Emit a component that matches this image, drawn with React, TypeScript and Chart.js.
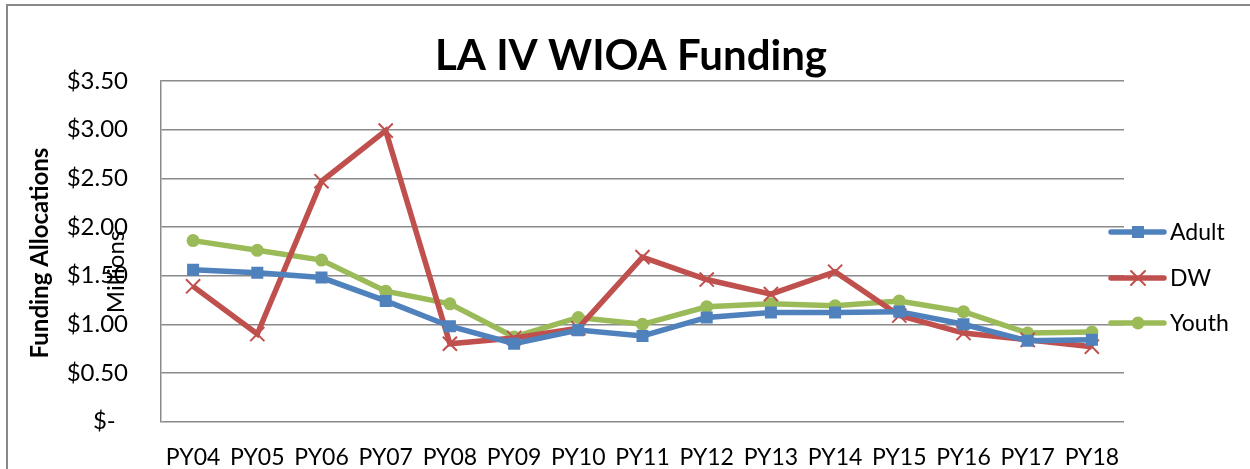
import React, { useEffect, useRef } from "react";
import { Chart, registerables } from "chart.js";

Chart.register(...registerables);

const categories = ["PY04", "PY05", "PY06", "PY07", "PY08", "PY09", "PY10", "PY11", "PY12", "PY13", "PY14", "PY15", "PY16", "PY17", "PY18"];
const adult = [1.56, 1.53, 1.48, 1.24, 0.98, 0.80, 0.94, 0.88, 1.07, 1.12, 1.12, 1.13, 1.0, 0.83, 0.84];
const dw = [1.39, 0.90, 2.47, 2.99, 0.80, 0.86, 0.96, 1.69, 1.46, 1.31, 1.54, 1.09, 0.91, 0.84, 0.77];
const youth = [1.86, 1.76, 1.66, 1.34, 1.21, 0.87, 1.07, 1.00, 1.18, 1.21, 1.19, 1.24, 1.13, 0.91, 0.92];
const yTickLabels = ["$-  ", "$0.50", "$1.00", "$1.50", "$2.00", "$2.50", "$3.00", "$3.50"];

const FONT = "Lato, 'Open Sans', sans-serif";
const BLUE = "#4F81BD";
const RED = "#C0504D";
const GREEN = "#9BBB59";
const GRID = "#8a8a8a";

function drawMarker(ctx: CanvasRenderingContext2D, style: string, x: number, y: number, color: string) {
  ctx.save();
  ctx.fillStyle = color;
  ctx.strokeStyle = color;
  if (style === "rect") {
    ctx.fillRect(x - 6, y - 6, 12, 12);
  } else if (style === "crossRot") {
    ctx.lineWidth = 2;
    ctx.beginPath();
    ctx.moveTo(x - 7, y - 7);
    ctx.lineTo(x + 7, y + 7);
    ctx.moveTo(x + 7, y - 7);
    ctx.lineTo(x - 7, y + 7);
    ctx.stroke();
  } else {
    ctx.beginPath();
    ctx.arc(x, y, 6.5, 0, Math.PI * 2);
    ctx.fill();
  }
  ctx.restore();
}

const decorPlugin = {
  id: "decor",
  afterDraw(chart: any) {
    const ctx: CanvasRenderingContext2D = chart.ctx;
    ctx.save();
    // frame
    ctx.strokeStyle = "#888888";
    ctx.lineWidth = 2;
    ctx.beginPath();
    ctx.moveTo(7, 480);
    ctx.lineTo(7, 5);
    ctx.lineTo(1260, 5);
    ctx.stroke();
    // title
    ctx.fillStyle = "#000";
    ctx.textAlign = "center";
    ctx.textBaseline = "alphabetic";
    ctx.font = `bold 42px ${FONT}`;
    ctx.fillText("LA IV WIOA Funding", 631, 70);
    // y axis title
    ctx.save();
    ctx.translate(40, 253);
    ctx.rotate(-Math.PI / 2);
    ctx.textBaseline = "middle";
    ctx.font = `bold 24px ${FONT}`;
    ctx.fillText("Funding Allocations", 0, 0);
    ctx.restore();
    // display units label
    ctx.save();
    ctx.translate(116, 272);
    ctx.rotate(-Math.PI / 2);
    ctx.textBaseline = "middle";
    ctx.font = `24px ${FONT}`;
    ctx.fillText("Millions", 0, 0);
    ctx.restore();
    // legend
    const items = chart.data.datasets.map((d: any, i: number) => ({
      label: d.label,
      color: d.borderColor,
      style: d.pointStyle,
      y: [232, 278, 323][i],
    }));
    items.forEach((it: any) => {
      ctx.strokeStyle = it.color;
      ctx.lineWidth = 5.5;
      ctx.lineCap = "round";
      ctx.beginPath();
      ctx.moveTo(1111, it.y);
      ctx.lineTo(1164, it.y);
      ctx.stroke();
      drawMarker(ctx, it.style, 1138, it.y, it.color);
      ctx.fillStyle = "#000";
      ctx.textAlign = "left";
      ctx.textBaseline = "middle";
      ctx.font = `23px ${FONT}`;
      ctx.fillText(it.label, 1170, it.y + 1);
    });
    ctx.restore();
  },
};

export default function App() {
  const ref = useRef<HTMLCanvasElement>(null);
  useEffect(() => {
    document.body.style.margin = "0";
    if (!ref.current) return;
    const chart = new Chart(ref.current, {
      type: "line",
      data: {
        labels: categories,
        datasets: [
          {
            label: "Adult",
            data: adult,
            borderColor: BLUE,
            backgroundColor: BLUE,
            borderWidth: 5.5,
            pointStyle: "rect",
            pointRadius: 8.5,
            pointBorderWidth: 0,
            tension: 0,
          },
          {
            label: "DW",
            data: dw,
            borderColor: RED,
            backgroundColor: RED,
            borderWidth: 5.5,
            pointStyle: "crossRot",
            pointRadius: 10,
            pointBorderWidth: 2,
            tension: 0,
          },
          {
            label: "Youth",
            data: youth,
            borderColor: GREEN,
            backgroundColor: GREEN,
            borderWidth: 5.5,
            pointStyle: "circle",
            pointRadius: 6.5,
            pointBorderWidth: 0,
            tension: 0,
          },
        ],
      },
      options: {
        responsive: false,
        animation: false,
        devicePixelRatio: 1,
        layout: { padding: { left: 0, right: 126, top: 81, bottom: 0 } },
        plugins: {
          legend: { display: false },
          title: { display: false },
          tooltip: { enabled: false },
        },
        scales: {
          x: {
            offset: true,
            grid: { display: false, drawTicks: false },
            border: { display: false },
            ticks: {
              color: "#000",
              font: { family: FONT, size: 23 },
              padding: 22,
              maxRotation: 0,
              autoSkip: false,
            },
            afterFit: (s: any) => {
              s.height = 44;
            },
          },
          y: {
            min: 0,
            max: 3.5,
            grid: { color: GRID, lineWidth: 1.5, drawTicks: false },
            border: { display: true, color: GRID, width: 1.5 },
            ticks: {
              stepSize: 0.5,
              color: "#000",
              font: { family: FONT, size: 24 },
              padding: 33,
              callback: (_v: any, i: number) => yTickLabels[i],
            },
            afterFit: (s: any) => {
              s.width = 161;
            },
          },
        },
      },
      plugins: [decorPlugin],
    });
    return () => chart.destroy();
  }, []);
  return <canvas ref={ref} width={1250} height={469} style={{ display: "block" }} />;
}
